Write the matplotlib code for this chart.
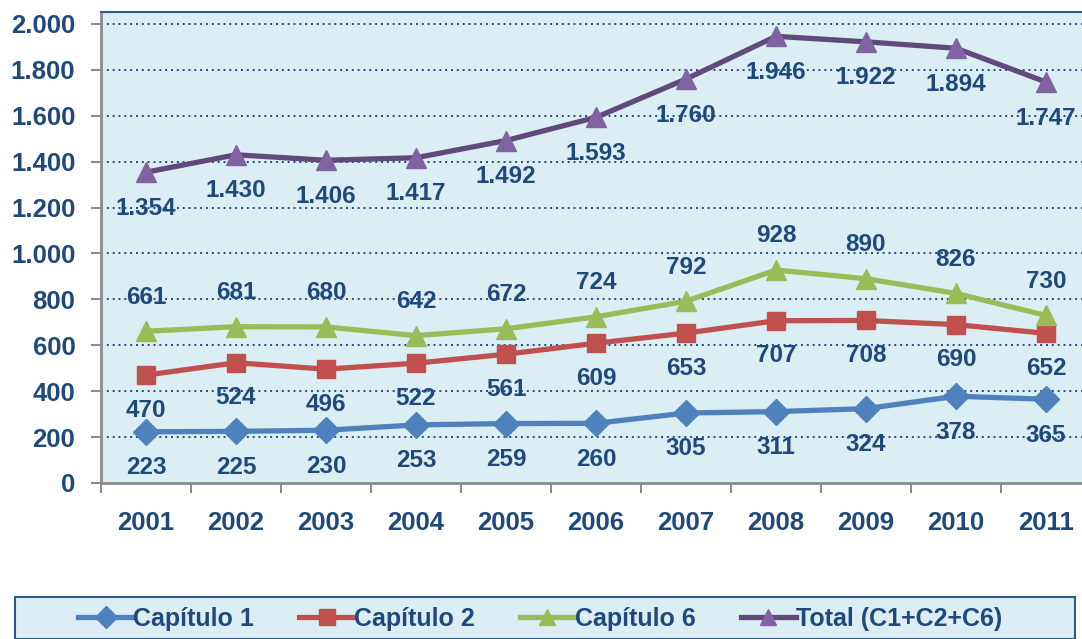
import matplotlib
matplotlib.use("Agg")
import matplotlib.pyplot as plt
from matplotlib.patches import Rectangle
from matplotlib.ticker import FuncFormatter

years = [2001, 2002, 2003, 2004, 2005, 2006, 2007, 2008, 2009, 2010, 2011]
cap1 = [223, 225, 230, 253, 259, 260, 305, 311, 324, 378, 365]
cap2 = [470, 524, 496, 522, 561, 609, 653, 707, 708, 690, 652]
cap6 = [661, 681, 680, 642, 672, 724, 792, 928, 890, 826, 730]
total = [1354, 1430, 1406, 1417, 1492, 1593, 1760, 1946, 1922, 1894, 1747]
series_names = ["Capítulo 1", "Capítulo 2", "Capítulo 6", "Total (C1+C2+C6)"]

TXT = "#1F497D"
BG = "#DBEEF4"
FAM = ["Liberation Sans", "DejaVu Sans"]

fig = plt.figure(figsize=(10.82, 6.39), dpi=100)
ax = fig.add_axes([101/1082, 1-483/639, 990/1082, (483-12)/639])
ax.set_facecolor(BG)

x = list(range(len(years)))
ax.set_xlim(-0.5, len(years) - 0.5)
ax.set_ylim(0, 2052)

for yv in range(200, 2001, 200):
    ax.axhline(yv, color="#1F497D", lw=1.4, ls=(0, (1, 2)), zorder=1)

specs = [
    (cap1, "#4F81BD", "#4F81BD", "D", 13, 36),
    (cap2, "#C0504D", "#C0504D", "s", 13, 35),
    (cap6, "#9BBB59", "#9BBB59", "^", 14, -34),
    (total, "#604A7B", "#8064A2", "^", 15, 36),
]
handles = []
for (vals, lc, mc, mk, ms, off), name in zip(specs, series_names):
    h, = ax.plot(x, vals, color=lc, lw=3.8, marker=mk, ms=ms, mfc=mc, mec=mc,
                 zorder=3, label=name)
    handles.append(h)
    for xi, v in zip(x, vals):
        lab = f"{v:,}".replace(",", ".")
        ax.annotate(lab, (xi, v), xytext=(0, -off * 0.72), textcoords="offset points",
                    ha="center", va="center", fontsize=17.5, fontweight="bold",
                    color=TXT, family=FAM, zorder=4)

ax.set_xticks([i - 0.5 for i in range(len(years) + 1)])
ax.set_xticklabels([])
ax.set_xticks(x, minor=True)
ax.set_xticklabels([str(y) for y in years], minor=True)
ax.tick_params(axis="x", which="major", length=7, width=1.5, color="#8C8C8C", direction="out")
ax.tick_params(axis="x", which="minor", length=0, pad=20, labelsize=18.5, labelcolor=TXT)
for t in ax.get_xticklabels(minor=True):
    t.set_fontweight("bold"); t.set_family(FAM)

ax.set_yticks(range(0, 2001, 200))
ax.yaxis.set_major_formatter(FuncFormatter(lambda v, p: f"{int(v):,}".replace(",", ".")))
ax.tick_params(axis="y", length=7, width=1.5, color="#8C8C8C", direction="out",
               labelsize=18.5, labelcolor=TXT, pad=11.5)
for t in ax.get_yticklabels():
    t.set_fontweight("bold"); t.set_family(FAM)

ax.spines["left"].set_color("#8C8C8C"); ax.spines["left"].set_linewidth(2)
ax.spines["bottom"].set_color("#8C8C8C"); ax.spines["bottom"].set_linewidth(2)
ax.spines["top"].set_color("#2E5A8A"); ax.spines["top"].set_linewidth(1.5)
ax.spines["right"].set_visible(False)

# legend box
fig.patches.append(Rectangle((15/1082, 0), (1075-15)/1082, (639-597)/639,
                             transform=fig.transFigure, facecolor=BG,
                             edgecolor="#2E5A8A", lw=1.5, zorder=0))
leg = fig.legend(handles=handles, labels=series_names, loc="center",
                 bbox_to_anchor=(540/1082, 1-619/639), ncol=4, frameon=False,
                 handlelength=2.2, handletextpad=0.0, columnspacing=1.8,
                 prop={"family": FAM, "weight": "bold", "size": 18})
for t in leg.get_texts():
    t.set_color(TXT)
for lh in leg.legend_handles:
    lh.set_markersize(11)

fig.savefig("out.png", dpi=100)
